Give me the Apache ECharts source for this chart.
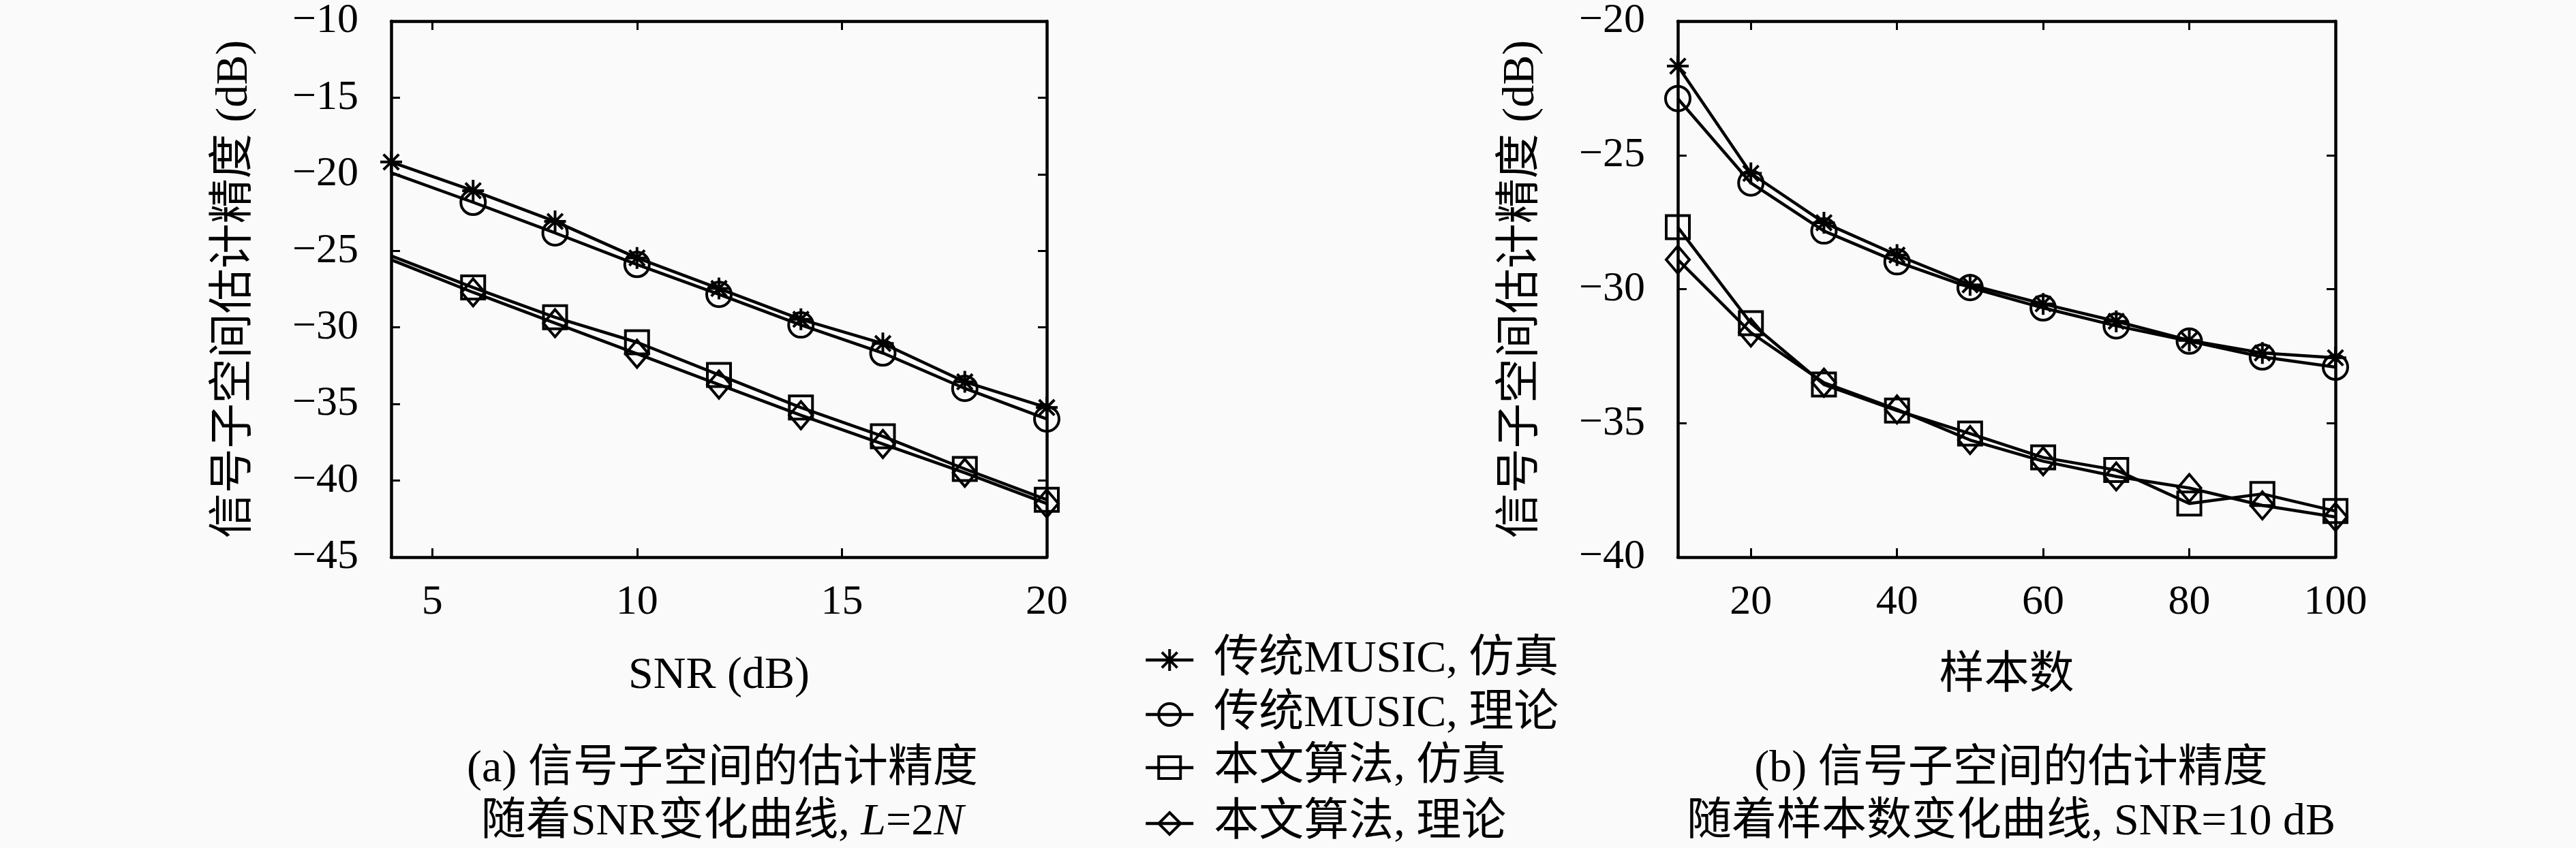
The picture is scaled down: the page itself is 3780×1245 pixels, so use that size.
<!DOCTYPE html>
<html><head><meta charset="utf-8">
<script src="https://cdn.jsdelivr.net/npm/echarts@6/dist/echarts.min.js"></script>
<style>html,body{margin:0;padding:0;background:#fafafa}#c{width:3780px;height:1245px}</style>
</head><body><div id="c"></div>
<script>
// ---- data ----
const snr = [4, 6, 8, 10, 12, 14, 16, 18, 20];
const musicSimA  = [-19.2, -21.07, -23.08, -25.46, -27.46, -29.47, -31.05, -33.55, -35.23];
const musicTheoA = [-19.9, -21.83, -23.83, -25.89, -27.84, -29.84, -31.67, -33.98, -35.98];
const propSimA   = [-25.33, -27.39, -29.34, -30.97, -33.1, -35.23, -37.11, -39.24, -41.25];
const propTheoA  = [-25.58, -27.71, -29.72, -31.72, -33.73, -35.73, -37.61, -39.49, -41.5];

const samples = [10, 20, 30, 40, 50, 60, 70, 80, 90, 100];
const musicSimB  = [-21.68, -25.68, -27.52, -28.73, -29.84, -30.55, -31.2, -31.91, -32.38, -32.56];
const musicTheoB = [-22.89, -26.04, -27.83, -28.98, -29.94, -30.7, -31.37, -31.94, -32.53, -32.91];
const propSimB   = [-27.69, -31.27, -33.56, -34.53, -35.39, -36.28, -36.75, -38.0, -37.64, -38.28];
const propTheoB  = [-28.9, -31.62, -33.49, -34.49, -35.63, -36.42, -36.99, -37.42, -38.07, -38.5];

const xTicksA = [5, 10, 15, 20];
const xTicksB = [20, 40, 60, 80, 100];
const seriesNames = ['传统MUSIC, 仿真', '传统MUSIC, 理论', '本文算法, 仿真', '本文算法, 理论'];
const xNameA = 'SNR (dB)';
const xNameB = '样本数';
const yName = '信号子空间估计精度 (dB)';
const captionA1 = '(a) 信号子空间的估计精度';
const captionB1 = '(b) 信号子空间的估计精度';
const captionB2 = '随着样本数变化曲线, SNR=10 dB';

// ---- styling ----
const FF = "'Liberation Serif', 'DejaVu Serif', 'Noto Sans CJK SC', serif";
const FS = 66;
const TFS = 62;
const LW = 4.5;
const STAR = 'path://M0,-10L0,10M-10,0L10,0M-7.07,-7.07L7.07,7.07M-7.07,7.07L7.07,-7.07';
const symbols = [STAR, 'circle', 'rect', 'diamond'];
const sizes = [32, 36, 34, [34, 40]];
const txt = {color: '#000', fontFamily: FF, fontSize: FS, fontWeight: 'normal'};
const minus = v => String(v).replace('-', '\u2212');

function mk(idx, xs, ys, gi, hideFirst) {
  return {
    type: 'line', name: seriesNames[idx], xAxisIndex: gi, yAxisIndex: gi,
    data: xs.map((x, i) => (hideFirst && i === 0) ? {value: [x, ys[i]], symbol: 'none'} : [x, ys[i]]),
    symbol: symbols[idx], symbolSize: sizes[idx], showSymbol: true, clip: false,
    lineStyle: {color: '#000', width: LW},
    itemStyle: {color: 'rgba(0,0,0,0)', borderColor: '#000', borderWidth: 4},
    emphasis: {disabled: true}, z: 3
  };
}

function xAx(gi, min, max, ticks, name, top) {
  return {
    gridIndex: gi, type: 'value', min: min, max: max, position: top ? 'top' : 'bottom',
    axisLine: {show: true, onZero: false, lineStyle: {color: '#000', width: LW}},
    axisTick: {show: true, inside: true, length: 13, customValues: ticks, lineStyle: {color: '#000', width: 3}},
    axisLabel: {show: !top, customValues: ticks, margin: 36, color: '#000', fontFamily: FF, fontSize: TFS},
    splitLine: {show: false},
    name: top ? '' : name, nameLocation: 'middle', nameGap: 142, nameTextStyle: txt
  };
}
function yAx(gi, min, max, right) {
  return {
    gridIndex: gi, type: 'value', min: min, max: max, interval: 5, position: right ? 'right' : 'left',
    axisLine: {show: true, onZero: false, lineStyle: {color: '#000', width: LW}},
    axisTick: {show: true, inside: true, length: 13, lineStyle: {color: '#000', width: 3}},
    axisLabel: {show: !right, margin: 48, color: '#000', fontFamily: FF, fontSize: TFS, formatter: minus},
    splitLine: {show: false},
    name: right ? '' : yName, nameLocation: 'middle', nameRotate: 90, nameGap: 196, nameTextStyle: txt
  };
}

const legendTops = [936, 1016, 1094, 1176];
const legends = seriesNames.map((n, i) => ({
  orient: 'vertical', left: 1679, top: legendTops[i], padding: 0, itemWidth: 70, itemHeight: 40,
  data: [n], selectedMode: false,
  lineStyle: {color: '#000', width: LW},
  itemStyle: {color: 'rgba(0,0,0,0)', borderColor: '#000', borderWidth: 4},
  textStyle: {color: '#000', fontFamily: FF, fontSize: FS, lineHeight: 60, padding: [0, 0, 0, 25]}
}));

const chart = echarts.init(document.getElementById('c'), null, {renderer: 'canvas', devicePixelRatio: 1});
chart.setOption({
  backgroundColor: '#fafafa',
  animation: false,
  grid: [
    {left: 574, top: 16, width: 962, height: 802},
    {left: 2462, top: 16, width: 965, height: 802}
  ],
  xAxis: [
    xAx(0, 4, 20, xTicksA, xNameA, false),
    xAx(1, 10, 100, xTicksB, xNameB, false),
    xAx(0, 4, 20, xTicksA, '', true),
    xAx(1, 10, 100, xTicksB, '', true)
  ],
  yAxis: [
    yAx(0, -45, -10, false),
    yAx(1, -40, -20, false),
    yAx(0, -45, -10, true),
    yAx(1, -40, -20, true)
  ],
  legend: legends,
  title: [
    {text: captionA1, left: 1055, top: 1092, textAlign: 'center', textStyle: txt},
    {text: '{a|随着SNR变化曲线, }{i|L}{a|=2}{i|N}', left: 1055, top: 1170, textAlign: 'center',
     textStyle: Object.assign({}, txt, {rich: {
       a: {fontFamily: FF, fontSize: FS, color: '#000'},
       i: {fontFamily: FF, fontSize: FS, color: '#000', fontStyle: 'italic'}
     }})},
    {text: captionB1, left: 2946, top: 1092, textAlign: 'center', textStyle: txt},
    {text: captionB2, left: 2946, top: 1170, textAlign: 'center', textStyle: txt}
  ],
  series: [
    mk(0, snr, musicSimA, 0, false),
    mk(1, snr, musicTheoA, 0, true),
    mk(2, snr, propSimA, 0, true),
    mk(3, snr, propTheoA, 0, true),
    mk(0, samples, musicSimB, 1, false),
    mk(1, samples, musicTheoB, 1, false),
    mk(2, samples, propSimB, 1, false),
    mk(3, samples, propTheoB, 1, false)
  ]
});
</script></body></html>
